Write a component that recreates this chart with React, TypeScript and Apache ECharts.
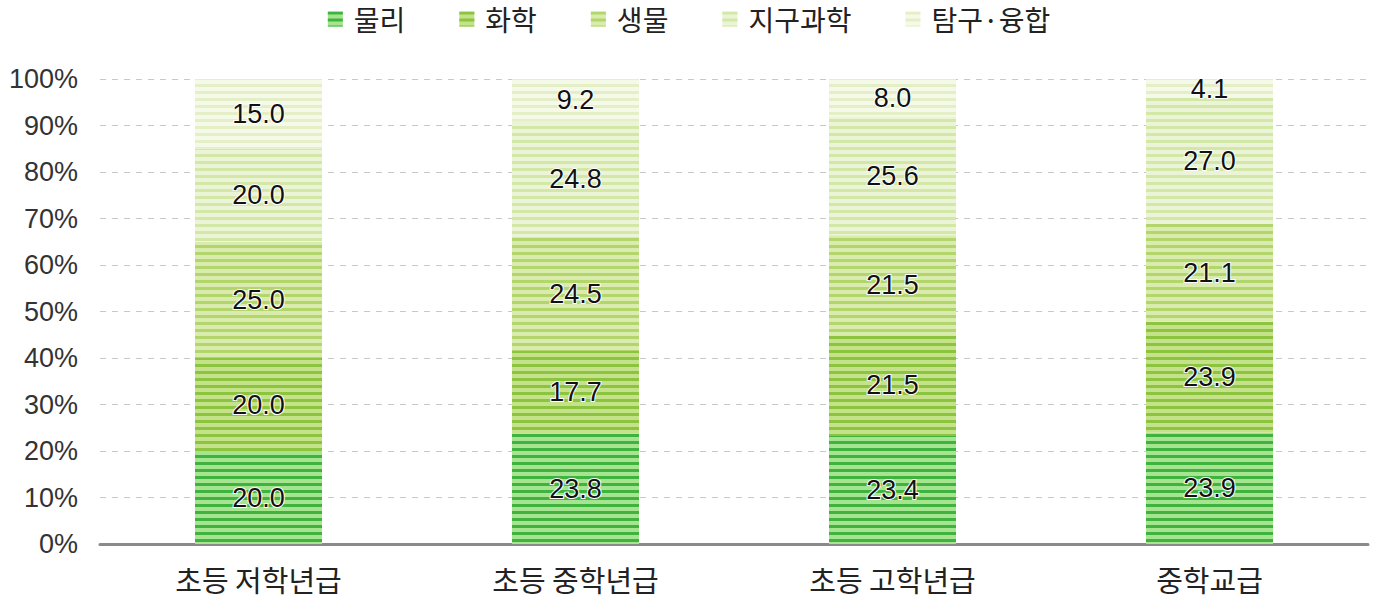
import React, { useEffect, useRef } from "react";
import * as echarts from "echarts";

const categories = ["초등 저학년급", "초등 중학년급", "초등 고학년급", "중학교급"];
const seriesNames = ["물리", "화학", "생물", "지구과학", "탐구·융합"];
const physics = [20.0, 23.8, 23.4, 23.9];
const chemistry = [20.0, 17.7, 21.5, 23.9];
const biology = [25.0, 24.5, 21.5, 21.1];
const earth = [20.0, 24.8, 25.6, 27.0];
const inquiry = [15.0, 9.2, 8.0, 4.1];
const yTicks = [0, 10, 20, 30, 40, 50, 60, 70, 80, 90, 100];

const lightColors = ["#a6e58f", "#c4e28a", "#d9ecad", "#ebf4d6", "#f5f9e8"];
const darkColors = ["#3fb23f", "#8cc43f", "#b3d66c", "#d3e7a6", "#e4efc8"];

const FONT = "'Noto Sans CJK KR', 'Noto Sans', sans-serif";
const NUM_FONT = "'Liberation Sans', Arial, sans-serif";

export default function App() {
  const ref = useRef<HTMLDivElement>(null);
  useEffect(() => {
    document.body.style.margin = "0";
    const chart = echarts.init(ref.current!, null, { renderer: "svg" });
    const data = [physics, chemistry, biology, earth, inquiry];
    chart.setOption({
      animation: false,
      legend: {
        top: 2,
        left: "center",
        padding: 0,
        icon: "rect",
        itemWidth: 15,
        itemHeight: 15,
        itemGap: 54,
        textStyle: {
          fontFamily: FONT,
          fontSize: 28,
          lineHeight: 34,
          color: "#222",
          padding: [0, 0, 0, 6],
        },
        data: seriesNames,
      },
      grid: { left: 100, right: 10, top: 79, bottom: 65 },
      xAxis: {
        type: "category",
        data: categories,
        axisLine: { lineStyle: { color: "#8a8a8a", width: 3 } },
        axisTick: { show: false },
        axisLabel: { fontFamily: FONT, fontSize: 29, color: "#222", margin: 20 },
      },
      yAxis: {
        type: "value",
        min: 0,
        max: 100,
        interval: 10,
        axisLine: { show: false },
        axisTick: { show: false },
        axisLabel: {
          fontFamily: NUM_FONT,
          fontSize: 27,
          color: "#333",
          margin: 22,
          formatter: (v: number) => (yTicks.includes(v) ? v + "%" : ""),
        },
        splitLine: { lineStyle: { color: "#c8c8c8", type: [6, 6], width: 1.2 } },
      },
      series: seriesNames.map((name, i) => ({
        name,
        type: "bar",
        stack: "total",
        barWidth: 127,
        data: data[i],
        itemStyle: {
          color: lightColors[i],
          decal: {
            symbol: "rect",
            symbolSize: 1,
            dashArrayX: [1, 0],
            dashArrayY: [3, 4],
            rotation: 0,
            color: darkColors[i],
          },
        },
        label: {
          show: true,
          position: "inside",
          formatter: (p: any) => Number(p.value).toFixed(1),
          fontFamily: NUM_FONT,
          fontSize: 27,
          color: "#111",
          textBorderColor: "#ffffff",
          textBorderWidth: 2,
        },
      })),
    });
    return () => chart.dispose();
  }, []);
  return <div ref={ref} style={{ width: 1378, height: 609 }} />;
}
